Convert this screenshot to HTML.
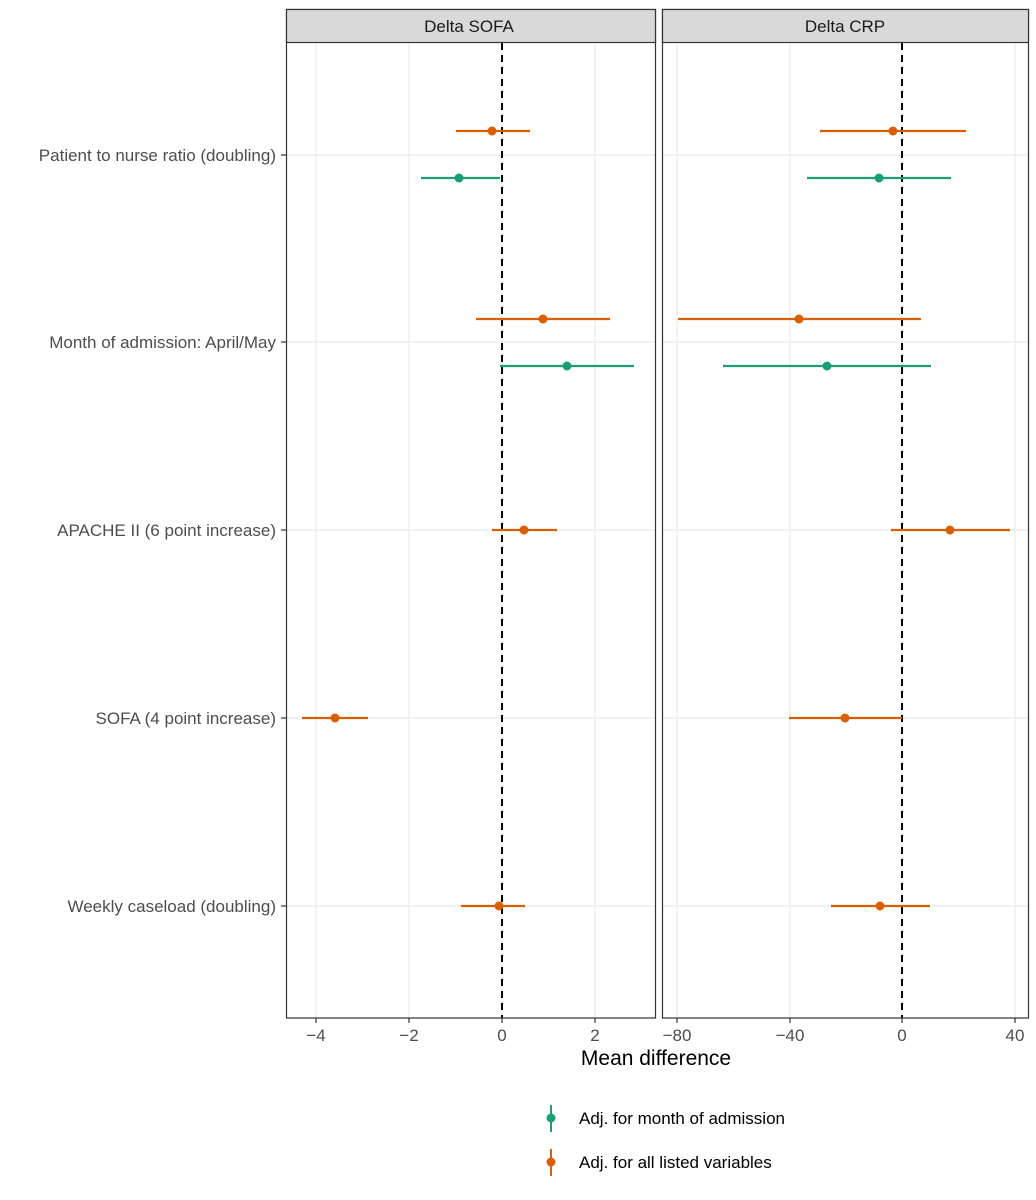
<!DOCTYPE html>
<html><head><meta charset="utf-8"><style>body{margin:0;background:#fff}svg{display:block}text{font-family:"Liberation Sans",Arial,sans-serif}</style></head><body>
<svg width="1036" height="1200" viewBox="0 0 1036 1200" xmlns="http://www.w3.org/2000/svg">
<g stroke="#ebebeb" stroke-width="1.2">
<line x1="287" x2="655" y1="155" y2="155"/><line x1="287" x2="655" y1="342" y2="342"/><line x1="287" x2="655" y1="530" y2="530"/><line x1="287" x2="655" y1="718" y2="718"/><line x1="287" x2="655" y1="906" y2="906"/>
<line x1="316" x2="316" y1="43" y2="1018"/><line x1="409" x2="409" y1="43" y2="1018"/><line x1="502" x2="502" y1="43" y2="1018"/><line x1="595" x2="595" y1="43" y2="1018"/>
<line x1="663" x2="1028" y1="155" y2="155"/><line x1="663" x2="1028" y1="342" y2="342"/><line x1="663" x2="1028" y1="530" y2="530"/><line x1="663" x2="1028" y1="718" y2="718"/><line x1="663" x2="1028" y1="906" y2="906"/>
<line x1="677" x2="677" y1="43" y2="1018"/><line x1="790" x2="790" y1="43" y2="1018"/><line x1="902" x2="902" y1="43" y2="1018"/><line x1="1015" x2="1015" y1="43" y2="1018"/>
</g>
<g stroke="#000" stroke-width="2" stroke-dasharray="7,5"><line x1="502" x2="502" y1="43" y2="1018"/><line x1="902" x2="902" y1="43" y2="1018"/></g>
<g stroke-width="2.2">
<g stroke="#d95f02" fill="#d95f02">
<line x1="456" x2="530" y1="131" y2="131"/><circle cx="492" cy="131" r="4.5" stroke="none"/>
<line x1="476" x2="610" y1="319" y2="319"/><circle cx="543" cy="319" r="4.5" stroke="none"/>
<line x1="492" x2="557" y1="530" y2="530"/><circle cx="524" cy="530" r="4.5" stroke="none"/>
<line x1="302" x2="368" y1="718" y2="718"/><circle cx="335" cy="718" r="4.5" stroke="none"/>
<line x1="461" x2="525" y1="906" y2="906"/><circle cx="499" cy="906" r="4.5" stroke="none"/>
<line x1="820" x2="966" y1="131" y2="131"/><circle cx="893" cy="131" r="4.5" stroke="none"/>
<line x1="678" x2="921" y1="319" y2="319"/><circle cx="799" cy="319" r="4.5" stroke="none"/>
<line x1="891" x2="1010" y1="530" y2="530"/><circle cx="950" cy="530" r="4.5" stroke="none"/>
<line x1="789" x2="902" y1="718" y2="718"/><circle cx="845" cy="718" r="4.5" stroke="none"/>
<line x1="831" x2="930" y1="906" y2="906"/><circle cx="880" cy="906" r="4.5" stroke="none"/>
</g>
<g stroke="#1b9e77" fill="#1b9e77">
<line x1="421" x2="500" y1="178" y2="178"/><circle cx="459" cy="178" r="4.5" stroke="none"/>
<line x1="500" x2="634" y1="366" y2="366"/><circle cx="567" cy="366" r="4.5" stroke="none"/>
<line x1="807" x2="951" y1="178" y2="178"/><circle cx="879" cy="178" r="4.5" stroke="none"/>
<line x1="723" x2="931" y1="366" y2="366"/><circle cx="827" cy="366" r="4.5" stroke="none"/>
</g>
</g>
<g fill="none" stroke="#333" stroke-width="1.2">
<rect x="286.5" y="9.5" width="369" height="1008.5"/><rect x="662.5" y="9.5" width="366" height="1008.5"/>
</g>
<rect x="286.5" y="9.5" width="369" height="33" fill="#d9d9d9" stroke="#333" stroke-width="1.2"/>
<rect x="662.5" y="9.5" width="366" height="33" fill="#d9d9d9" stroke="#333" stroke-width="1.2"/>
<text x="469" y="32" font-size="17" fill="#1a1a1a" text-anchor="middle">Delta SOFA</text>
<text x="845" y="32" font-size="17" fill="#1a1a1a" text-anchor="middle">Delta CRP</text>
<g stroke="#333" stroke-width="1.2">
<line x1="281" x2="286" y1="155" y2="155"/><line x1="281" x2="286" y1="342" y2="342"/><line x1="281" x2="286" y1="530" y2="530"/><line x1="281" x2="286" y1="718" y2="718"/><line x1="281" x2="286" y1="906" y2="906"/>
<line x1="316" x2="316" y1="1018" y2="1023"/><line x1="409" x2="409" y1="1018" y2="1023"/><line x1="502" x2="502" y1="1018" y2="1023"/><line x1="595" x2="595" y1="1018" y2="1023"/>
<line x1="677" x2="677" y1="1018" y2="1023"/><line x1="790" x2="790" y1="1018" y2="1023"/><line x1="902" x2="902" y1="1018" y2="1023"/><line x1="1015" x2="1015" y1="1018" y2="1023"/>
</g>
<g font-size="17" fill="#4d4d4d" text-anchor="end">
<text x="276" y="161">Patient to nurse ratio (doubling)</text>
<text x="276" y="348">Month of admission: April/May</text>
<text x="276" y="536">APACHE II (6 point increase)</text>
<text x="276" y="724">SOFA (4 point increase)</text>
<text x="276" y="912">Weekly caseload (doubling)</text>
</g>
<g font-size="17" fill="#4d4d4d" text-anchor="middle">
<text x="316" y="1041">−4</text><text x="409" y="1041">−2</text><text x="502" y="1041">0</text><text x="595" y="1041">2</text>
<text x="677" y="1041">−80</text><text x="790" y="1041">−40</text><text x="902" y="1041">0</text><text x="1015" y="1041">40</text>
</g>
<text x="656" y="1065" font-size="21" fill="#000" text-anchor="middle">Mean difference</text>
<line x1="551" x2="551" y1="1105" y2="1132" stroke="#1b9e77" stroke-width="2"/><circle cx="551" cy="1118" r="4.5" fill="#1b9e77"/>
<line x1="551" x2="551" y1="1149" y2="1176" stroke="#d95f02" stroke-width="2"/><circle cx="551" cy="1162" r="4.5" fill="#d95f02"/>
<text x="579" y="1124" font-size="17" fill="#000">Adj. for month of admission</text>
<text x="579" y="1168" font-size="17" fill="#000">Adj. for all listed variables</text>
</svg>
</body></html>
